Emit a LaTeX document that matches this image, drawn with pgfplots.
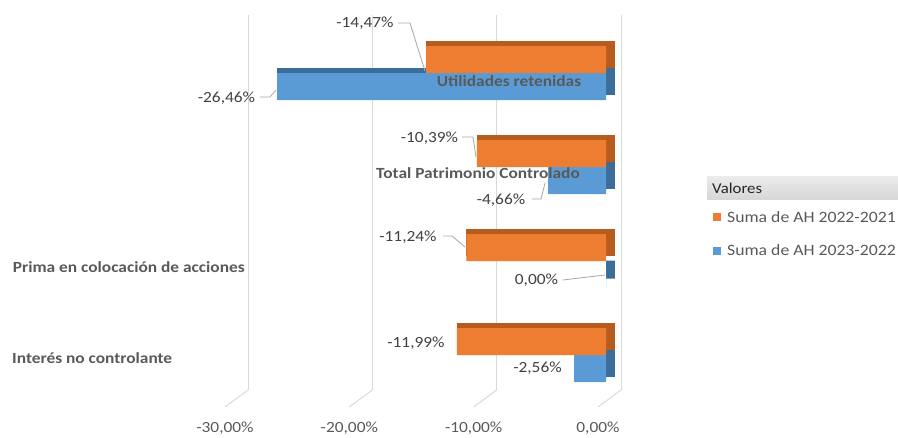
\documentclass[border=0pt]{standalone}
\usepackage{pgfplots}
\pgfplotsset{compat=1.18}
\usepackage{pgfplotstable}
\usepackage{fontspec}
\setmainfont{Carlito}[FakeStretch=1.12]
\definecolor{orF}{HTML}{ED7D31}
\definecolor{orS}{HTML}{B85B1E}
\definecolor{blF}{HTML}{5B9BD5}
\definecolor{blS}{HTML}{3C6D99}
\definecolor{gridc}{HTML}{D9D9D9}
\definecolor{txt}{HTML}{595959}
\definecolor{dlab}{HTML}{404040}
\definecolor{lead}{HTML}{A6A6A6}

% c: category position (3 = Utilidades retenidas ... 0 = Interes no controlante)
\pgfplotstableread{
c v
3 -14.47
2 -10.39
1 -11.24
0 -11.99
}\orangedata
\pgfplotstableread{
c v
3 -26.46
2 -4.66
1 0.00
0 -2.56
}\bluedata

\begin{document}
\begin{tikzpicture}[x=1pt,y=1pt,font=\fontsize{15.5}{18}\selectfont]
\useasboundingbox (0,0) rectangle (898,437);
\begin{axis}[
  at={(248pt,47pt)}, anchor=south west,
  scale only axis, width=373pt, height=375pt,
  xmin=-30, xmax=0, ymin=-0.372, ymax=3.617,
  axis line style={draw=none},
  major tick length=0pt,
  ytick=\empty,
  xtick={-30,-20,-10,0},
  xticklabels={-30{,}00\%,-20{,}00\%,-10{,}00\%,0{,}00\%},
  xticklabel style={anchor=center, xshift=-23pt, yshift=-38pt, text=txt, font=\fontsize{15.5}{18}\selectfont},
  xmajorgrids, major grid style={gridc, line width=1pt},
  xbar, clip=false,
  reverse legend,
  legend style={at={(axis description cs:1.2466,0.4773)}, anchor=north west,
    draw=none, fill=none, inner sep=0pt, row sep=21pt,
    font=\fontsize{15.8}{18}\selectfont, text=txt,
    nodes={inner sep=0pt},
    /tikz/every odd column/.append style={column sep=6pt}},
  legend cell align=left,
]
% grid floor slants
\pgfplotsinvokeforeach{-30,-20,-10,0}{
  \draw[gridc, line width=1pt] (axis cs:#1,-0.372) -- ++(-23pt,-17pt);
}
% depth faces (top + side)
\addplot[forget plot, fill=blS, draw=blS, line width=9pt, line join=miter,
  bar width=18pt, bar shift=-13.5pt, xshift=-10.5pt, yshift=5pt]
  table[x=v, y=c] {\bluedata};
\addplot[forget plot, fill=orS, draw=orS, line width=9pt, line join=miter,
  bar width=18pt, bar shift=13.5pt, xshift=-10.5pt, yshift=5pt]
  table[x=v, y=c] {\orangedata};
% front faces
\addplot[fill=blF, draw=none, bar width=27pt, bar shift=-13.5pt, xshift=-15pt,
  legend image code/.code={\fill[blF] (0pt,-4pt) rectangle (8pt,4pt);}]
  table[x=v, y=c] {\bluedata};
\addlegendentry{Suma de AH 2023-2022}
\addplot[fill=orF, draw=none, bar width=27pt, bar shift=13.5pt, xshift=-15pt,
  legend image code/.code={\fill[orF] (0pt,-4pt) rectangle (8pt,4pt);}]
  table[x=v, y=c] {\orangedata};
\addlegendentry{Suma de AH 2022-2021}
\end{axis}

% legend header
\shade[top color=white!92!black, bottom color=white!84!black] (707,237) rectangle (898,260);
\node[anchor=west, text=black!85, font=\fontsize{15}{17}\selectfont, inner sep=0pt] at (712,248.5) {Valores};

% category labels
\begin{scope}[font=\fontsize{15.5}{18}\selectfont\bfseries, text=txt]
\node[inner sep=0pt] at (509,356) {Utilidades retenidas};
\node[inner sep=0pt] at (478,264) {Total Patrimonio Controlado};
\node[inner sep=0pt, anchor=east] at (245,170) {Prima en colocación de acciones};
\node[inner sep=0pt, anchor=west] at (12,79) {Interés no controlante};
\end{scope}

% data labels
\begin{scope}[text=dlab, inner sep=0pt]
\node at (365,414) {-14,47\%};
\node at (226.5,339) {-26,46\%};
\node at (429.5,299) {-10,39\%};
\node at (501,237) {-4,66\%};
\node at (408,200) {-11,24\%};
\node at (536.5,157) {0,00\%};
\node at (416,94) {-11,99\%};
\node at (537.5,69) {-2,56\%};
\end{scope}
\begin{scope}[lead, line width=0.8pt]
\draw (398,414) -- (410,414) -- (425,366);
\draw (260,340) -- (270,340) -- (276,347);
\draw (462,300) -- (473,300) -- (476,280);
\draw (532,238) -- (541,238) -- (545,254);
\draw (443,201) -- (452,201) -- (465,190);
\draw (563,157) -- (605,162);
\end{scope}
\end{tikzpicture}
\end{document}
